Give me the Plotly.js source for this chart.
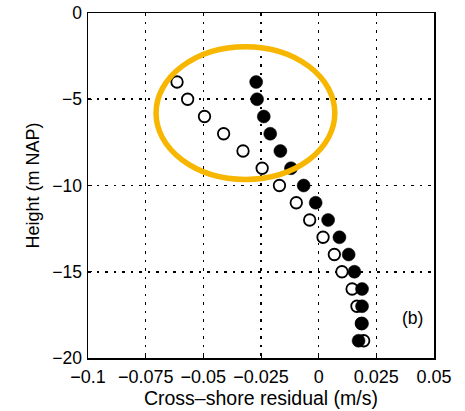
<!DOCTYPE html>
<html>
<head>
<meta charset="utf-8">
<script src="https://cdn.plot.ly/plotly-3.0.1.min.js"></script>
<style>html,body{margin:0;padding:0;background:#fff;}#chart{width:465px;height:411px;}</style>
</head>
<body>
<div id="chart"></div>
<script>
// Heights (m NAP)
const heights = [-4, -5, -6, -7, -8, -9, -10, -11, -12, -13, -14, -15, -16, -17, -18, -19];
// Filled markers: cross-shore residual (m/s)
const filledResidual = [-0.0271, -0.0267, -0.0238, -0.0210, -0.0166, -0.0120, -0.0065, -0.0013, 0.0041, 0.0090, 0.0130, 0.0155, 0.0188, 0.0188, 0.0188, 0.0173];
// Open markers: cross-shore residual (m/s)
const openResidual = [-0.0614, -0.0568, -0.0495, -0.0412, -0.0328, -0.0245, -0.0170, -0.0097, -0.0039, 0.0019, 0.0068, 0.0101, 0.0145, 0.0166, 0.0185, 0.0195];
const xTickVals = [-0.1, -0.075, -0.05, -0.025, 0, 0.025, 0.05];
const xTickText = ["−0.1", "−0.075", "−0.05", "−0.025", "0", "0.025", "0.05"];
const yTickVals = [0, -5, -10, -15, -20];
const yTickText = ["0", "−5", "−10", "−15", "−20"];

const font = "Liberation Sans, Arial, Helvetica, sans-serif";

const traces = [
  {
    x: openResidual, y: heights, type: "scatter", mode: "markers",
    marker: {symbol: "circle", size: 11.5, color: "#ffffff", line: {color: "#000000", width: 1.8}},
    hoverinfo: "none", showlegend: false
  },
  {
    x: filledResidual, y: heights, type: "scatter", mode: "markers",
    marker: {symbol: "circle", size: 13, color: "#000000", line: {color: "#000000", width: 0.5}},
    hoverinfo: "none", showlegend: false
  }
];

const axisCommon = {
  showline: true, mirror: true, linecolor: "#000000", linewidth: 1.5,
  showgrid: true, gridcolor: "#000000", gridwidth: 1.6, griddash: "2.5px,6px",
  zeroline: false, ticks: "inside", ticklen: 4, tickcolor: "#000000",
  tickangle: 0
};

const layout = {
  width: 465, height: 411,
  margin: {l: 88, r: 31, t: 13, b: 53},
  paper_bgcolor: "#ffffff", plot_bgcolor: "#ffffff",
  font: {family: font, color: "#000000"},
  xaxis: Object.assign({}, axisCommon, {
    range: [-0.1, 0.05], tickvals: xTickVals, ticktext: xTickText,
    tickfont: {family: font, size: 18, color: "#000000"},
    ticklabelstandoff: 2,
    title: {text: "Cross–shore residual (m/s)", font: {family: font, size: 19.5, color: "#000000"}, standoff: 1}
  }),
  yaxis: Object.assign({}, axisCommon, {
    range: [-20, 0], tickvals: yTickVals, ticktext: yTickText,
    tickfont: {family: font, size: 17.5, color: "#000000"},
    ticklabelstandoff: 1,
    title: {text: "Height (m NAP)", font: {family: font, size: 18, color: "#000000"}, standoff: 8}
  }),
  shapes: [
    {type: "circle", xref: "x", yref: "y", x0: -0.0705, x1: 0.0070, y0: -9.65, y1: -1.95,
     line: {color: "#F7B600", width: 5.5}, fillcolor: "rgba(0,0,0,0)"}
  ],
  annotations: [
    {text: "(b)", xref: "x", yref: "y", x: 0.0405, y: -17.7, showarrow: false,
     font: {family: font, size: 17.5, color: "#000000"}}
  ]
};

Plotly.newPlot("chart", traces, layout, {staticPlot: true, displayModeBar: false});
</script>
</body>
</html>
